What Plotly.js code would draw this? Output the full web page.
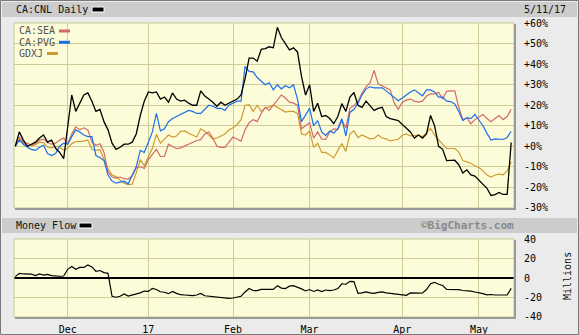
<!DOCTYPE html>
<html>
<head>
<meta charset="utf-8">
<script src="https://cdn.plot.ly/plotly-3.0.1.min.js"></script>
<style>
  html, body { margin: 0; padding: 0; background: #ebebeb; }
  #chart { width: 579px; height: 335px; }
</style>
</head>
<body>
<div id="chart"></div>
<script>
// ---- Trading calendar (TSX) ----
const firstDay = '2016-11-14';
const lastDay = '2017-05-11';
const holidays = ['2016-12-26', '2016-12-27', '2017-01-02', '2017-02-20', '2017-04-14'];

// ---- Month tick labels ----
const monthStarts = ['2016-12-01', '2017-01-03', '2017-02-01', '2017-03-01', '2017-04-03', '2017-05-01'];
const monthLabels = ['Dec', '17', 'Feb', 'Mar', 'Apr', 'May'];

// ---- Percent change series (%) ----
const cnl = [0, 7, 3, 0, 1, 2, 4, 5.5, 2, 3,
  -1, -3, -6, 9, 25, 17, 21, 25, 26, 22,
  17, 18, 12, 8, 1.5, -1.5, -0.5, 1, 1, 2,
  6, 15, 22, 26.5, 26, 26.5, 23, 24, 21.5, 26,
  23, 22, 22.5, 21, 20, 20, 27, 24.5, 23, 21.5,
  19.5, 21.5, 20, 21, 22, 23, 25, 33, 43, 43,
  41.5, 47.3, 47.6, 48.5, 48, 58, 53, 50, 47, 48,
  46, 34, 25, 30, 17, 21, 14.5, 15, 13.5, 11,
  14.5, 20.8, 17, 24, 26.2, 20, 19, 22, 19.5, 17.5,
  18.5, 19, 14.5, 13.5, 13, 12.5, 10.6, 9, 7, 4,
  5.5, 4, 6, 15, 10, 0, -1.5, -7, -6.8, -6.8,
  -9, -13, -11.5, -14, -14.5, -16.5, -18, -20.5, -24, -23.6,
  -22.5, -23.5, -23.5, 1.8];

const sea = [0, 4.5, 2, 1.5, 0.5, 1.3, 3, 3.5, 1.7, 1,
  1.5, 3, 4, 1, 6, 9.5, 8, 9, 8, 2,
  0.5, 1.2, -3, -12.5, -15, -15.5, -15, -15.8, -16, -14.5,
  -10.5, -10, -10.8, -6.5, -4, -1.5, -5, -5, 1, -0.3,
  -1.2, -0.8, 0, 1, 2, 2.8, 3.2, 6, 7, 4,
  0, -0.5, -0.5, 1.8, 4.5, 3.5, 2.5, 8, 11.5, 13,
  12, 16, 19, 17.5, 20, 23, 25, 23.5, 21.5, 21,
  20, 8.6, 10, 11.5, 4, 7, 3.5, 3.4, 7, 8.5,
  8.3, 12.5, 9, 18.5, 19.8, 22, 26, 29, 31, 37,
  30.5, 29.5, 28.5, 27.5, 21, 18, 21.5, 22.5, 23, 22,
  21.5, 22, 24.5, 25.5, 25.5, 26.3, 23, 26.8, 27, 27,
  19, 13, 13.8, 11, 13, 14.3, 15.5, 13.5, 12, 13.5,
  15, 13, 14.5, 18];

const pvg = [0, 3, 1, -0.5, -1.5, -2, -0.5, 0.5, -3.5, -4.5,
  -3.5, 0, 1.5, 1, 4.7, 8, 7, 5.5, 4.7, 4.7,
  -4.5, -5.5, -7, -14, -17, -18, -17.5, -17, -18.3, -14.5,
  -10, -2, -3, 2, 7, 16, 7.5, 8.5, 12, 13.5,
  14.5, 15.8, 16.5, 17.5, 17, 16, 16, 18, 20, 19.5,
  18.5, 18.5, 17.5, 20, 21, 22, 22, 39, 36.5, 36.3,
  33.5, 31.5, 30, 31, 27.5, 30, 28, 29.5, 28.5, 30,
  23, 12, 15, 18.5, 10, 12.5, 7, 5.3, 7.5, 6.5,
  8.5, 13.5, 5, 16.5, 18, 21, 25, 28, 29, 28.5,
  28.5, 28.5, 27, 25.5, 24, 22.2, 23.5, 25, 26.5, 27.5,
  26, 24.6, 27.5, 27.5, 26.5, 24, 24, 22, 21.8, 20.6,
  17, 12.5, 14, 13.5, 15.5, 13, 10, 6.3, 3, 3.6,
  3.3, 3.3, 4.3, 7.3];

const gdxj = [0, 3.5, 1.5, 0.5, 0.3, 0.8, 2, 1.8, -0.5, -0.8,
  0, -0.5, -1.8, -1, 1.3, 2.3, 2.3, 2.5, 3, -1.5,
  -2, -1.7, -6, -11, -14, -14.8, -16.5, -18, -18.7, -18.5,
  -13, -6.5, -9.5, -5, -1, 5.8, 1.5, 3.5, 5.5, 4.5,
  5, 7.3, 7.5, 6.3, 5.5, 4.5, 8.5, 7.3, 5.5, 3.5,
  4, 5, 6, 8, 9, 10.5, 13, 20, 20.3, 17,
  20, 17, 18.8, 19.2, 20, 19, 18, 16.7, 17, 17,
  16, 6, 5.5, 7.5, -0.5, 1.5, -3, -3, -4.2, -5.7,
  -2, 1.3, -2.5, 6, 7.5, 4.2, 5.5, 4.5, 3.6, 3.8,
  5.5, 4, 3.6, 2.6, 3, 3.4, 5.4, 6, 5, 5.3,
  5.4, 4.6, 6.6, 8.7, 5.4, 3, 1, -1, -1.1, -1.1,
  -2.8, -7, -7.6, -8.3, -9.5, -10.4, -12, -14, -15, -14,
  -13.6, -13.9, -12, -7.6];

// ---- Money flow (millions) ----
const moneyFlow = [1.4, 4.9, 4.2, 4.2, 4, 2.5, 4.2, 3.1, 3.8, 2.5,
  1.8, 1.8, 2.1, 9, 12, 9, 11, 11, 13.5, 11.5,
  7, 7.8, 5.6, 4.9, -19, -20, -19, -16.7, -18.8, -17.7,
  -17, -15.5, -13.6, -14, -10.8, -12, -14.3, -14.8, -16.3, -14,
  -16, -17.4, -17.7, -18, -18.4, -17.7, -16, -18.5, -19, -19.5,
  -20, -20.5, -21, -21.2, -20.8, -20.2, -19, -14.5, -11, -13,
  -13.2, -11.8, -11.8, -11.8, -11.8, -8, -10.5, -11, -8.5, -8,
  -9.5, -11.3, -13.5, -12, -14, -12.5, -14.2, -12.5, -13.2, -12.5,
  -11, -6, -6.5, -3.5, -3.8, -16, -15.5, -14.5, -15.5, -16,
  -15, -14.5, -15.5, -16, -17, -17.4, -17.7, -18, -15.5, -16,
  -15.8, -15.5, -12, -6, -4.5, -6.5, -7.8, -11.8, -11.8, -11.8,
  -12.2, -13, -13.2, -13.6, -14.6, -15.2, -16.3, -17.5, -17.2, -17.7,
  -17.7, -18, -17.7, -10.8];

const pctTicks = [-30, -20, -10, 0, 10, 20, 30, 40, 50, 60];
const mfTicks = [-40, -20, 0, 20, 40];

// Build trading-day categories
const dates = [];
{
  const d = new Date(firstDay + 'T00:00:00Z');
  const end = new Date(lastDay + 'T00:00:00Z');
  while (d <= end) {
    const s = d.toISOString().slice(0, 10);
    const wd = d.getUTCDay();
    if (wd !== 0 && wd !== 6 && holidays.indexOf(s) < 0) dates.push(s);
    d.setUTCDate(d.getUTCDate() + 1);
  }
}

const W = 579, H = 335;
const px = x => x / W;
const py = y => 1 - y / H;
const mono = 'DejaVu Sans Mono, monospace';
const fs = 10;
const gridCol = '#cdcd9a';
const plotBg = '#fcfcd8';

const traces = [
  {x: dates, y: gdxj, name: 'GDXJ', mode: 'lines', line: {color: '#d09a32', width: 1.2}, xaxis: 'x', yaxis: 'y'},
  {x: dates, y: sea, name: 'CA:SEA', mode: 'lines', line: {color: '#d26a6a', width: 1.2}, xaxis: 'x', yaxis: 'y'},
  {x: dates, y: pvg, name: 'CA:PVG', mode: 'lines', line: {color: '#1c6fea', width: 1.2}, xaxis: 'x', yaxis: 'y'},
  {x: dates, y: cnl, name: 'CA:CNL', mode: 'lines', line: {color: '#000000', width: 1.3}, xaxis: 'x', yaxis: 'y'},
  {x: dates, y: moneyFlow, name: 'Money Flow', mode: 'lines', line: {color: '#000000', width: 1.2}, xaxis: 'x2', yaxis: 'y2'}
];

const xRange = [-0.32, dates.length - 0.3];

const commonX = {
  type: 'category', range: xRange, tickvals: monthStarts, ticktext: monthLabels,
  showgrid: true, gridcolor: gridCol, gridwidth: 1, zeroline: false, showline: false,
  tickfont: {family: mono, size: fs, color: '#000'}
};

const layout = {
  width: W, height: H,
  margin: {l: 0, r: 0, t: 0, b: 0},
  paper_bgcolor: '#ebebeb',
  plot_bgcolor: plotBg,
  showlegend: false,
  hovermode: false,
  xaxis: Object.assign({}, commonX, {domain: [px(14), px(514)], anchor: 'y', showticklabels: false, ticks: ''}),
  yaxis: {
    domain: [py(208), py(23)], anchor: 'x', side: 'right', range: [-30.1, 60.1],
    tickvals: pctTicks, ticktext: pctTicks.map(v => (v >= 0 ? '+' : '') + v + '%'),
    showgrid: true, gridcolor: gridCol, gridwidth: 1, zeroline: false, showline: false,
    ticks: 'outside', ticklen: 7, tickcolor: 'rgba(0,0,0,0)',
    tickfont: {family: mono, size: fs, color: '#000'}
  },
  xaxis2: Object.assign({}, commonX, {domain: [px(14), px(514)], anchor: 'y2', showticklabels: true,
    ticks: 'outside', ticklen: 3, tickcolor: 'rgba(0,0,0,0)'}),
  yaxis2: {
    domain: [py(317), py(239)], anchor: 'x2', side: 'right', range: [-40.6, 40.6],
    tickvals: mfTicks, ticktext: mfTicks.map(String),
    showgrid: true, gridcolor: gridCol, gridwidth: 1,
    zeroline: true, zerolinecolor: '#000', zerolinewidth: 1.2, showline: false,
    ticks: 'outside', ticklen: 7, tickcolor: 'rgba(0,0,0,0)',
    tickfont: {family: mono, size: fs, color: '#000'}
  },
  shapes: [
    // title bars
    {type: 'rect', xref: 'paper', yref: 'paper', x0: px(2), x1: px(577), y0: py(17), y1: py(2), fillcolor: '#cccccc', line: {width: 0}, layer: 'below'},
    {type: 'rect', xref: 'paper', yref: 'paper', x0: px(2), x1: px(577), y0: py(233), y1: py(218), fillcolor: '#cccccc', line: {width: 0}, layer: 'below'},
    // title swatches
    {type: 'rect', xref: 'paper', yref: 'paper', x0: px(92), x1: px(104), y0: py(12), y1: py(7), fillcolor: '#000', line: {color: '#fff', width: 1}},
    {type: 'rect', xref: 'paper', yref: 'paper', x0: px(79), x1: px(92), y0: py(228), y1: py(223), fillcolor: '#000', line: {color: '#fff', width: 1}},
    // plot borders
    {type: 'rect', xref: 'paper', yref: 'paper', x0: px(14), x1: px(514), y0: py(208), y1: py(23), line: {color: '#c8c894', width: 1}},
    {type: 'rect', xref: 'paper', yref: 'paper', x0: px(14), x1: px(514), y0: py(317), y1: py(239), line: {color: '#c8c894', width: 1}},
    // shadows
    {type: 'line', xref: 'paper', yref: 'paper', x0: px(515), x1: px(515), y0: py(209.5), y1: py(24), line: {color: '#9a9a9a', width: 2}},
    {type: 'line', xref: 'paper', yref: 'paper', x0: px(15), x1: px(516), y0: py(209), y1: py(209), line: {color: '#9a9a9a', width: 2}},
    {type: 'line', xref: 'paper', yref: 'paper', x0: px(515), x1: px(515), y0: py(318.5), y1: py(240), line: {color: '#9a9a9a', width: 2}},
    {type: 'line', xref: 'paper', yref: 'paper', x0: px(15), x1: px(516), y0: py(318), y1: py(318), line: {color: '#9a9a9a', width: 2}},
    // legend swatches
    {type: 'line', xref: 'paper', yref: 'paper', x0: px(59), x1: px(70), y0: py(31), y1: py(31), line: {color: '#d26a6a', width: 3}},
    {type: 'line', xref: 'paper', yref: 'paper', x0: px(59), x1: px(70), y0: py(42.3), y1: py(42.3), line: {color: '#1c6fea', width: 3}},
    {type: 'line', xref: 'paper', yref: 'paper', x0: px(47), x1: px(58), y0: py(53.5), y1: py(53.5), line: {color: '#d09a32', width: 3}},
    // outer frame
    {type: 'rect', xref: 'paper', yref: 'paper', x0: px(0.5), x1: px(578.5), y0: py(334.5), y1: py(0.5), line: {color: '#7a7a7a', width: 1}}
  ],
  annotations: [
    {text: 'CA:CNL Daily', xref: 'paper', yref: 'paper', x: px(14), y: py(9.5), xanchor: 'left', yanchor: 'middle', showarrow: false, font: {family: mono, size: fs, color: '#111'}},
    {text: '5/11/17', xref: 'paper', yref: 'paper', x: px(522), y: py(9.5), xanchor: 'left', yanchor: 'middle', showarrow: false, font: {family: mono, size: fs, color: '#111'}},
    {text: 'CA:SEA', xref: 'paper', yref: 'paper', x: px(17), y: py(31), xanchor: 'left', yanchor: 'middle', showarrow: false, font: {family: mono, size: fs, color: '#555'}},
    {text: 'CA:PVG', xref: 'paper', yref: 'paper', x: px(17), y: py(42.3), xanchor: 'left', yanchor: 'middle', showarrow: false, font: {family: mono, size: fs, color: '#555'}},
    {text: 'GDXJ', xref: 'paper', yref: 'paper', x: px(17), y: py(53.5), xanchor: 'left', yanchor: 'middle', showarrow: false, font: {family: mono, size: fs, color: '#555'}},
    {text: 'Money Flow', xref: 'paper', yref: 'paper', x: px(14), y: py(225.5), xanchor: 'left', yanchor: 'middle', showarrow: false, font: {family: mono, size: fs, color: '#111'}},
    {text: '<b>©BigCharts.com</b>', xref: 'paper', yref: 'paper', x: px(516), y: py(225.5), xanchor: 'right', yanchor: 'middle', showarrow: false, font: {family: mono, size: 11, color: '#8a8a8a'}},
    {text: 'Millions', xref: 'paper', yref: 'paper', x: px(567), y: py(276), xanchor: 'center', yanchor: 'middle', textangle: -90, showarrow: false, font: {family: mono, size: fs, color: '#111'}}
  ]
};

Plotly.newPlot('chart', traces, layout, {staticPlot: true, displayModeBar: false});
</script>
</body>
</html>
